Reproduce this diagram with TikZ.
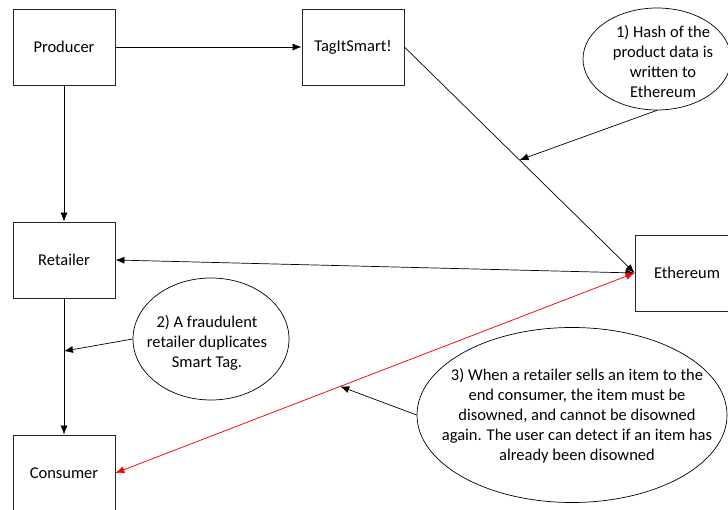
\documentclass[tikz,border=0pt]{standalone}
\usepackage{fontspec}
\setmainfont{Carlito}
\usetikzlibrary{arrows.meta,shapes.geometric}
\begin{document}
\begin{tikzpicture}[x=1pt,y=-1pt,
  txt/.style={font=\fontsize{16.5}{20}\selectfont},
  box/.style={draw=black!85, line width=0.8pt, minimum width=102pt, minimum height=76pt, inner sep=0pt, txt},
  note/.style={ellipse, draw=black, line width=0.7pt, inner sep=0pt},
  notetext/.style={align=center, inner sep=0pt, txt},
  conn/.style={line width=0.7pt, -{Latex[length=9pt,width=7pt]}},
  both/.style={line width=0.7pt, {Latex[length=9pt,width=7pt]}-{Latex[length=9pt,width=7pt]}},
]
\useasboundingbox (0,0) rectangle (728,510);
\node[box] (producer) at (64,47) {Producer};
\node[box] (tag) at (353,47) {TagItSmart!};
\node[box] (retailer) at (64,260) {Retailer};
\node[box] (consumer) at (64,473) {Consumer};
\node[box, minimum width=104pt] (eth) at (687,273) {Ethereum};

\node[note, minimum width=148pt, minimum height=102pt] (n1) at (657,59) {};
\node[notetext] (t1) at (663,62) {1) Hash of the\\product data is\\written to\\Ethereum};
\node[note, minimum width=156pt, minimum height=122pt] (n2) at (211,339) {};
\node[notetext] (t2) at (207,343) {2) A fraudulent\\retailer duplicates\\Smart Tag.};
\node[note, minimum width=310pt, minimum height=175pt] (n3) at (572,415) {};
\node[notetext] (t3) at (577,416) {3) When a retailer sells an item to the\\end consumer, the item must be\\disowned, and cannot be disowned\\again. The user can detect if an item has\\already been disowned};

\draw[conn] (producer) -- (tag);
\draw[conn] (producer) -- (retailer);
\draw[conn] (retailer) -- (consumer);
\draw[conn] (tag.east) -- coordinate[pos=0.5] (m1) (eth.west);
\draw[both] (retailer.east) -- (eth.west);
\draw[both, draw=red, fill=red] (consumer.east) -- coordinate[pos=0.433] (m3) (eth.west);
\path (retailer.south) -- coordinate[pos=0.387] (m2) (consumer.north);

\draw[conn] (n1.south) -- (m1);
\draw[conn] (n2.west) -- (m2);
\draw[conn] (n3.west) -- (m3);
\end{tikzpicture}
\end{document}
